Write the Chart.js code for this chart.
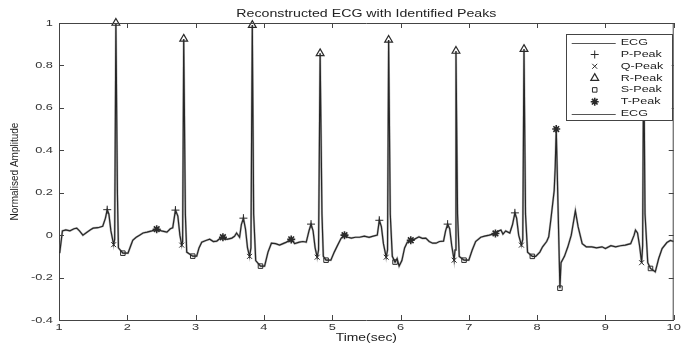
<!DOCTYPE html>
<html>
<head>
<meta charset="utf-8">
<title>Reconstructed ECG</title>
<script src="https://cdn.jsdelivr.net/npm/chart.js@4.4.1/dist/chart.umd.min.js"></script>
<style>
    html, body { margin: 0; padding: 0; background: #fff; }
    canvas { display: block; }
</style>
</head>
<body>
<canvas id="ecgChart" width="681" height="344"></canvas>
<script>
// ECG trace: time (sec) and normalised amplitude, one beat per line
var ecgTime = [
    1.01, 1.05, 1.10, 1.16, 1.22, 1.26, 1.30, 1.35, 1.41, 1.46, 1.50, 1.57, 1.64, 1.68, 1.706, 1.73, 1.76, 1.80, 1.815, 1.833, 1.855, 1.87, 1.935, 2.01,
    2.05, 2.08, 2.13, 2.18, 2.23, 2.29, 2.36, 2.43, 2.50, 2.58, 2.63, 2.665, 2.705, 2.74, 2.77, 2.797, 2.81, 2.826, 2.85, 2.87, 2.958, 3.016,
    3.05, 3.09, 3.15, 3.206, 3.26, 3.31, 3.36, 3.40, 3.46, 3.53, 3.57, 3.60, 3.644, 3.67, 3.70, 3.73, 3.76, 3.79, 3.81, 3.83, 3.85, 3.88, 3.95, 4.01,
    4.06, 4.11, 4.17, 4.23, 4.28, 4.33, 4.40, 4.45, 4.52, 4.57, 4.62, 4.66, 4.69, 4.72, 4.75, 4.78, 4.80, 4.823, 4.85, 4.87, 4.91, 4.98,
    5.03, 5.08, 5.13, 5.18, 5.23, 5.28, 5.34, 5.40, 5.47, 5.54, 5.60, 5.66, 5.69, 5.72, 5.75, 5.79, 5.81, 5.826, 5.85, 5.88, 5.92, 5.95, 5.98, 6.02,
    6.06, 6.10, 6.15, 6.20, 6.27, 6.32, 6.37, 6.42, 6.47, 6.52, 6.57, 6.63, 6.66, 6.69, 6.72, 6.75, 6.785, 6.798, 6.812, 6.835, 6.86, 6.93, 7.00,
    7.05, 7.10, 7.175, 7.23, 7.30, 7.35, 7.39, 7.44, 7.47, 7.50, 7.54, 7.60, 7.64, 7.675, 7.70, 7.73, 7.77, 7.79, 7.808, 7.83, 7.86, 7.93, 7.98,
    8.04, 8.08, 8.14, 8.17, 8.20, 8.25, 8.265, 8.28, 8.334, 8.35, 8.40, 8.45, 8.50, 8.56, 8.60, 8.66, 8.72, 8.80, 8.87, 8.95, 9.00,
    9.08, 9.15, 9.22, 9.29, 9.37, 9.42, 9.44, 9.47, 9.50, 9.53, 9.545, 9.56, 9.58, 9.62, 9.66, 9.73, 9.78, 9.83, 9.90, 9.95, 10.0
];
var ecgAmp = [
    -0.085, 0.02, 0.025, 0.02, 0.03, 0.033, 0.02, 0.0, 0.014, 0.025, 0.033, 0.035, 0.042, 0.08, 0.12, 0.10, 0.02, -0.045, -0.02, 1.0, 0.2, -0.06, -0.085, -0.085,
    -0.05, -0.024, -0.01, 0.0, 0.01, 0.014, 0.02, 0.028, 0.02, 0.014, 0.03, 0.035, 0.118, 0.09, 0.0, -0.047, -0.03, 0.925, 0.1, -0.08, -0.099, -0.099,
    -0.06, -0.033, -0.025, -0.019, -0.03, -0.028, -0.015, -0.01, -0.02, -0.014, -0.005, 0.01, -0.01, 0.05, 0.08, 0.03, -0.06, -0.10, -0.06, 0.99, 0.1, -0.12, -0.146, -0.146,
    -0.08, -0.038, -0.04, -0.047, -0.04, -0.033, -0.02, -0.04, -0.033, -0.03, -0.033, 0.02, 0.052, 0.02, -0.06, -0.104, -0.07, 0.857, 0.1, -0.1, -0.118, -0.118,
    -0.08, -0.047, -0.015, 0.0, -0.01, -0.014, -0.01, -0.01, -0.005, -0.01, -0.005, 0.0, 0.07, 0.04, -0.04, -0.104, -0.07, 0.92, 0.1, -0.1, -0.127, -0.11, -0.146, -0.12,
    -0.06, -0.033, -0.024, -0.02, -0.008, -0.015, -0.014, -0.03, -0.038, -0.038, -0.03, -0.028, 0.02, 0.052, 0.03, -0.05, -0.118, -0.07, 0.868, 0.1, -0.1, -0.118, -0.118,
    -0.07, -0.03, -0.01, -0.005, 0.0, 0.005, 0.008, 0.02, 0.024, 0.005, 0.02, 0.01, 0.05, 0.105, 0.08, 0.0, -0.047, -0.02, 0.877, 0.1, -0.08, -0.1, -0.1,
    -0.08, -0.055, -0.03, -0.008, 0.07, 0.21, 0.32, 0.5, -0.25, -0.13, -0.1, -0.055, 0.0, 0.115, 0.04, -0.04, -0.055, -0.055, -0.06, -0.055, -0.063,
    -0.05, -0.055, -0.05, -0.047, -0.04, 0.0, 0.024, 0.01, -0.05, -0.13, -0.05, 0.9, 0.1, -0.13, -0.157, -0.173, -0.11, -0.063, -0.035, -0.025, -0.03
];

// identified peaks
var pTime = [1.706, 2.705, 3.70, 4.69, 5.69, 6.69, 7.675];
var pAmp = [0.12, 0.118, 0.08, 0.052, 0.07, 0.052, 0.105];
var qTime = [1.80, 2.797, 3.79, 4.78, 5.79, 6.785, 7.77, 9.53];
var qAmp = [-0.045, -0.047, -0.10, -0.104, -0.104, -0.118, -0.047, -0.13];
var rTime = [1.833, 2.826, 3.83, 4.823, 5.826, 6.812, 7.808];
var rAmp = [1.0, 0.925, 0.99, 0.857, 0.92, 0.868, 0.877];
var sTime = [1.935, 2.958, 3.95, 4.91, 5.92, 6.93, 7.93, 8.334, 9.66];
var sAmp = [-0.085, -0.099, -0.146, -0.118, -0.127, -0.118, -0.1, -0.25, -0.157];
var tTime = [2.43, 3.40, 4.40, 5.18, 6.15, 7.39, 8.28];
var tAmp = [0.028, -0.01, -0.02, 0.0, -0.024, 0.008, 0.5];

var xTickValues = [1, 2, 3, 4, 5, 6, 7, 8, 9, 10];
var yTickValues = [-0.4, -0.2, 0, 0.2, 0.4, 0.6, 0.8, 1];

var fontFamily = "'Liberation Sans', Arial, sans-serif";

function toPoints(xs, ys) {
    return xs.map(function (x, i) { return { x: x, y: ys[i] }; });
}

function peakSet(label, xs, ys, style, radius, width) {
    return {
        label: label,
        data: toPoints(xs, ys),
        showLine: false,
        pointStyle: style,
        pointRadius: radius,
        pointBorderWidth: width,
        pointBorderColor: '#2a2a2a',
        pointBackgroundColor: 'rgba(0,0,0,0)',
        clip: false,
        order: 1
    };
}

var canvas = document.getElementById('ecgChart');
var ctx = canvas.getContext('2d');

// the figure's lettering is wider than it is tall, so flat text gets stretched sideways
var stretch = 1.35;
var plainFillText = ctx.fillText;
ctx.fillText = function (text, x, y, maxWidth) {
    var m = this.getTransform();
    if (m.b !== 0 || m.c !== 0) {
        if (maxWidth === undefined) return plainFillText.call(this, text, x, y);
        return plainFillText.call(this, text, x, y, maxWidth);
    }
    this.save();
    this.translate(x, y);
    this.scale(stretch, 1);
    if (maxWidth === undefined) plainFillText.call(this, text, 0, 0);
    else plainFillText.call(this, text, 0, 0, maxWidth / stretch);
    this.restore();
};

// top/right box edges and inward tick marks, matlab style
var axisFrame = {
    id: 'axisFrame',
    afterDatasetsDraw: function (chart) {
        var c = chart.ctx, a = chart.chartArea;
        var xs = chart.scales.x, ys = chart.scales.y;
        var len = 5;
        c.save();
        c.strokeStyle = '#444';
        c.lineWidth = 1;
        c.beginPath();
        c.moveTo(a.left, a.top + 0.5);
        c.lineTo(a.right, a.top + 0.5);
        c.moveTo(a.right - 0.5, a.top);
        c.lineTo(a.right - 0.5, a.bottom);
        xTickValues.forEach(function (v) {
            var px = Math.round(xs.getPixelForValue(v)) + 0.5;
            c.moveTo(px, a.bottom);
            c.lineTo(px, a.bottom - len);
            c.moveTo(px, a.top);
            c.lineTo(px, a.top + len);
        });
        yTickValues.forEach(function (v) {
            var py = Math.round(ys.getPixelForValue(v)) + 0.5;
            c.moveTo(a.left, py);
            c.lineTo(a.left + len, py);
            c.moveTo(a.right, py);
            c.lineTo(a.right - len, py);
        });
        c.stroke();
        c.restore();
    }
};

// legend box inside the plot, drawn over the trace
var legendBox = {
    id: 'legendBox',
    afterDatasetsDraw: function (chart) {
        var c = chart.ctx, a = chart.chartArea;
        var sets = chart.data.datasets;
        var rowH = 11.8;
        var w = 106, h = sets.length * rowH + 3.4;
        var right = a.right - 2, top = a.top + 11;
        var left = right - w;
        c.save();
        c.fillStyle = '#fff';
        c.fillRect(left, top, w, h);
        c.strokeStyle = '#444';
        c.lineWidth = 1;
        c.strokeRect(Math.round(left) + 0.5, Math.round(top) + 0.5, w, h);
        c.font = '9.3px ' + fontFamily;
        c.textBaseline = 'middle';
        c.textAlign = 'left';
        sets.forEach(function (ds, i) {
            var y = top + 8.7 + i * rowH;
            if (ds.showLine) {
                c.strokeStyle = '#555';
                c.lineWidth = 1;
                c.beginPath();
                c.moveTo(left + 6, Math.round(y) + 0.5);
                c.lineTo(left + 50, Math.round(y) + 0.5);
                c.stroke();
            } else {
                c.strokeStyle = ds.pointBorderColor;
                c.fillStyle = ds.pointBackgroundColor;
                c.lineWidth = ds.pointBorderWidth;
                Chart.helpers.drawPoint(c, {
                    pointStyle: ds.pointStyle,
                    radius: ds.pointRadius,
                    rotation: 0,
                    borderWidth: ds.pointBorderWidth
                }, left + 29, y);
            }
            c.fillStyle = '#222';
            c.fillText(ds.label, left + 55, y);
        });
        c.restore();
    }
};

var ecgChart = new Chart(ctx, {
    type: 'scatter',
    data: {
        datasets: [
            {
                label: 'ECG',
                data: toPoints(ecgTime, ecgAmp),
                showLine: true,
                borderColor: '#262626',
                borderWidth: 1.2,
                pointRadius: 0,
                tension: 0,
                order: 2
            },
            peakSet('P-Peak', pTime, pAmp, 'cross', 4, 1),
            peakSet('Q-Peak', qTime, qAmp, 'crossRot', 3.5, 1),
            peakSet('R-Peak', rTime, rAmp, 'triangle', 4.5, 1.2),
            peakSet('S-Peak', sTime, sAmp, 'rect', 3.2, 1),
            peakSet('T-Peak', tTime, tAmp, 'star', 4, 1.6),
            {
                label: 'ECG',
                data: toPoints(ecgTime, ecgAmp),
                showLine: true,
                borderColor: 'rgba(130,130,130,0.55)',
                borderWidth: 2.2,
                pointRadius: 0,
                tension: 0,
                order: 3
            }
        ]
    },
    options: {
        responsive: false,
        animation: false,
        devicePixelRatio: 1,
        layout: {
            padding: { left: 0, right: 6, top: 0, bottom: 0 }
        },
        plugins: {
            legend: { display: false },
            tooltip: { enabled: false },
            title: {
                display: true,
                text: 'Reconstructed ECG with Identified Peaks',
                fullSize: false,
                color: '#222',
                font: { family: fontFamily, size: 10.5, weight: 'normal' },
                padding: { top: 8.2, bottom: 2.2 }
            }
        },
        scales: {
            x: {
                type: 'linear',
                min: 1,
                max: 10,
                afterBuildTicks: function (scale) {
                    scale.ticks = xTickValues.map(function (v) { return { value: v }; });
                },
                afterFit: function (scale) { scale.height = 24; },
                grid: { display: false, drawTicks: false },
                border: { display: true, color: '#444', width: 1 },
                ticks: {
                    autoSkip: false,
                    maxRotation: 0,
                    padding: 2,
                    color: '#333',
                    font: { family: fontFamily, size: 9.5 }
                },
                title: {
                    display: true,
                    text: 'Time(sec)',
                    color: '#222',
                    font: { family: fontFamily, size: 10.3 },
                    padding: { top: 0, bottom: 0 }
                }
            },
            y: {
                type: 'linear',
                min: -0.4,
                max: 1,
                afterBuildTicks: function (scale) {
                    scale.ticks = yTickValues.map(function (v) { return { value: v }; });
                },
                afterFit: function (scale) { scale.width = 59; },
                grid: { display: false, drawTicks: false },
                border: { display: true, color: '#444', width: 1 },
                ticks: {
                    padding: 6,
                    color: '#333',
                    font: { family: fontFamily, size: 9.5 },
                    callback: function (v) { return String(Math.round(v * 10) / 10); }
                },
                title: {
                    display: true,
                    text: 'Normalised Amplitude',
                    color: '#222',
                    font: { family: fontFamily, size: 10 },
                    padding: { top: 9, bottom: 0 }
                }
            }
        }
    },
    plugins: [axisFrame, legendBox]
});
</script>
</body>
</html>
